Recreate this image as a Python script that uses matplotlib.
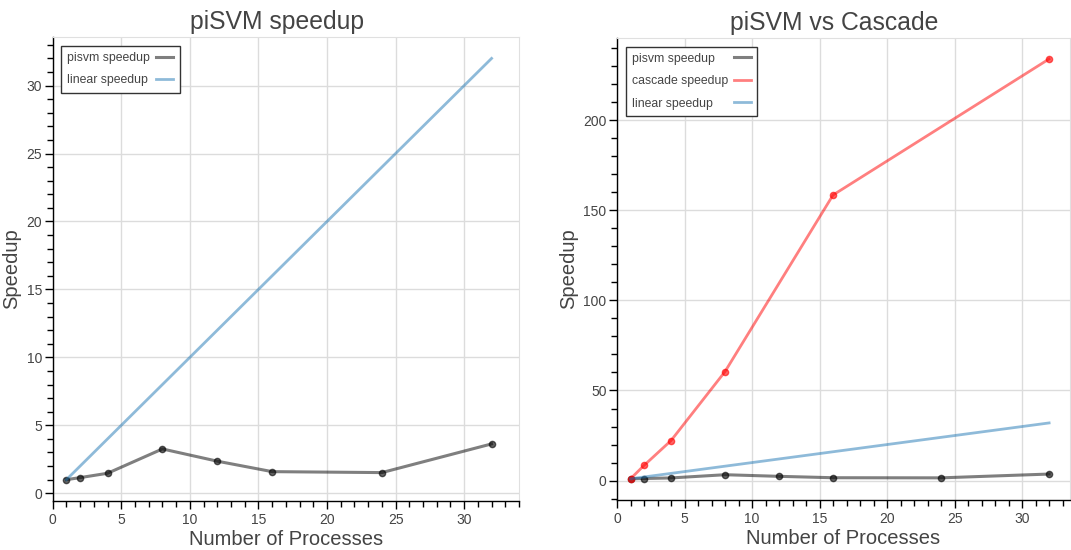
import matplotlib
matplotlib.use('Agg')
from matplotlib import pyplot as plt
from matplotlib.ticker import MultipleLocator

# processes used in the runs
procs = [1, 2, 4, 8, 12, 16, 24, 32]
pisvm_speedup = [1.0, 1.15, 1.47, 3.26, 2.36, 1.59, 1.52, 3.63]
linear_speedup = [1, 2, 4, 8, 12, 16, 24, 32]

cascade_procs = [1, 2, 4, 8, 16, 32]
cascade_speedup = [1.0, 8.4, 22.2, 60.5, 158.5, 234.0]

TXT = '#444444'
plt.rcParams['font.family'] = ['Liberation Sans', 'DejaVu Sans']


def style_axes(ax, xmaj, xmin, ymaj, ymin):
  ax.xaxis.set_major_locator(MultipleLocator(xmaj))
  ax.xaxis.set_minor_locator(MultipleLocator(xmin))
  ax.yaxis.set_major_locator(MultipleLocator(ymaj))
  ax.yaxis.set_minor_locator(MultipleLocator(ymin))
  ax.grid(True, which='major', color='#dcdcdc', linewidth=1.0)
  ax.set_axisbelow(True)
  for side in ['top', 'right']:
    ax.spines[side].set_color('#e0e0e0')
  for side in ['left', 'bottom']:
    ax.spines[side].set_color('black')
    ax.spines[side].set_linewidth(1.0)
  ax.tick_params(which='major', direction='out', length=6, width=1,
                 colors='black', labelcolor=TXT, labelsize=10)
  ax.tick_params(axis='x', which='major', pad=3)
  ax.tick_params(axis='y', which='major', pad=1.5)
  ax.tick_params(which='minor', direction='out', length=4, width=1, colors='black')
  ax.set_xlabel('Number of Processes', fontsize=14.5, color=TXT, labelpad=2)
  ax.set_ylabel('Speedup', fontsize=14.5, color=TXT, labelpad=4)


def legend(ax):
  leg = ax.legend(loc='upper left', markerfirst=False, fontsize=8.8,
                  fancybox=False, framealpha=1, edgecolor='#333333',
                  handlelength=1.4, borderaxespad=0.7, labelspacing=0.85,
                  borderpad=0.5, handletextpad=0.5)
  leg.get_frame().set_linewidth(1.0)
  for t in leg.get_texts():
    t.set_color(TXT)
  return leg


def justify_rows(leg, renderer):
  # text on the left, line glyph pushed to the right edge
  rows = []
  for col in leg._legend_handle_box.get_children():
    col.align = 'left'
    rows.extend(col.get_children())
  w = max(r.get_bbox(renderer).width for r in rows)
  for r in rows:
    r.width = w
    r.mode = 'expand'


fig = plt.figure(figsize=(10.71, 5.5), dpi=100)

# left: piSVM only
ax1 = fig.add_axes([0.0492, 0.0896, 0.4354, 0.8425])
ax1.plot(procs, pisvm_speedup, color='black', alpha=0.5, linewidth=2.2, label='pisvm speedup')
ax1.plot(procs, pisvm_speedup, 'o', color='black', alpha=0.6, markersize=4.5, linestyle='none')
ax1.plot(procs, linear_speedup, color='#1f77b4', alpha=0.5, linewidth=2.0, label='linear speedup')
ax1.set_xlim(0, 34.0)
ax1.set_ylim(-0.55, 33.55)
style_axes(ax1, 5, 1, 5, 1)
ax1.set_title('piSVM speedup', fontsize=17.8, color=TXT, pad=6, x=0.481)
leg1 = legend(ax1)

# right: piSVM vs cascade
ax2 = fig.add_axes([0.5761, 0.0918, 0.4230, 0.8390])
ax2.plot(procs, pisvm_speedup, color='black', alpha=0.5, linewidth=2.2, label='pisvm speedup')
ax2.plot(procs, pisvm_speedup, 'o', color='black', alpha=0.6, markersize=4.5, linestyle='none')
ax2.plot(cascade_procs, cascade_speedup, color='red', alpha=0.5, linewidth=2.0, label='cascade speedup')
ax2.plot(cascade_procs, cascade_speedup, 'o', color='red', alpha=0.6, markersize=4.5, linestyle='none')
ax2.plot(procs, linear_speedup, color='#1f77b4', alpha=0.5, linewidth=2.0, label='linear speedup')
ax2.set_xlim(0, 33.55)
ax2.set_ylim(-10.5, 245.6)
style_axes(ax2, 5, 1, 50, 10)
ax2.set_title('piSVM vs Cascade', fontsize=17.8, color=TXT, pad=6, x=0.479)
leg2 = legend(ax2)

fig.canvas.draw()
renderer = fig.canvas.get_renderer()
justify_rows(leg1, renderer)
justify_rows(leg2, renderer)

fig.savefig('out.png', dpi=100)
